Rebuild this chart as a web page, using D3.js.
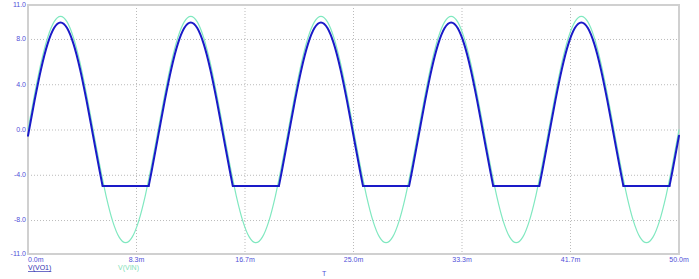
<!DOCTYPE html>
<html>
<head>
<meta charset="utf-8">
<script src="https://cdn.jsdelivr.net/npm/d3@7"></script>
<style>
  body { margin: 0; background: #fff; }
  svg { display: block; font-family: "Liberation Sans", Arial, sans-serif; }
</style>
</head>
<body>
<div id="chart"></div>
<script>
// time in ms, values in volts
var vinTime = d3.range(0, 50.01, 0.5)  // 0.5 ms sample grid
var vinOnePeriod = [0, 3.09, 5.88, 8.09, 9.51, 10, 9.51, 8.09, 5.88, 3.09,
  0, -3.09, -5.88, -8.09, -9.51, -10, -9.51, -8.09, -5.88, -3.09]
var vinValues = [].concat(vinOnePeriod, vinOnePeriod, vinOnePeriod, vinOnePeriod, vinOnePeriod, [0])

var vo1Time = [
  0, 0.5, 1, 1.5, 2, 2.5, 3, 3.5, 4, 4.5, 5, 5.5, 5.73, 9.27, 9.5,
  10, 10.5, 11, 11.5, 12, 12.5, 13, 13.5, 14, 14.5, 15, 15.5, 15.73, 19.27, 19.5,
  20, 20.5, 21, 21.5, 22, 22.5, 23, 23.5, 24, 24.5, 25, 25.5, 25.73, 29.27, 29.5,
  30, 30.5, 31, 31.5, 32, 32.5, 33, 33.5, 34, 34.5, 35, 35.5, 35.73, 39.27, 39.5,
  40, 40.5, 41, 41.5, 42, 42.5, 43, 43.5, 44, 44.5, 45, 45.5, 45.73, 49.27, 49.5,
  50]
var vo1OnePeriod = [-0.55, 2.54, 5.33, 7.54, 8.96, 9.45, 8.96, 7.54, 5.33, 2.54,
  -0.55, -3.64, -5, -5, -3.64]
var vo1Values = [].concat(vo1OnePeriod, vo1OnePeriod, vo1OnePeriod, vo1OnePeriod, vo1OnePeriod, [-0.55])

var xTicks = [0, 50 / 6, 100 / 6, 25, 200 / 6, 250 / 6, 50]
var xTickLabels = ["0.0m", "8.3m", "16.7m", "25.0m", "33.3m", "41.7m", "50.0m"]
var yTicks = [11, 8, 4, 0, -4, -8, -11]
var yTickLabels = ["11.0", "8.0", "4.0", "0.0", "-4.0", "-8.0", "-11.0"]
var seriesNames = ["V(VO1)", "V(VIN)"]

var W = 699, H = 279
var margin = {left: 28, right: 20, top: 5, bottom: 25}

var svg = d3.select('#chart').append('svg')
  .attr('width', W).attr('height', H)

var x = d3.scaleLinear().domain([0, 50]).range([margin.left, W - margin.right])
var y = d3.scaleLinear().domain([-11, 11]).range([H - margin.bottom, margin.top])

// grid
svg.append('g').selectAll('line')
  .data(xTicks.slice(1, -1))
  .enter().append('line')
  .attr('x1', d => x(d)).attr('x2', d => x(d))
  .attr('y1', y(11)).attr('y2', y(-11))
  .attr('stroke', '#bbb').attr('stroke-width', 1).attr('stroke-dasharray', '1,2')
svg.append('g').selectAll('line')
  .data(yTicks.slice(1, -1))
  .enter().append('line')
  .attr('x1', x(0)).attr('x2', x(50))
  .attr('y1', d => y(d) + 0.5).attr('y2', d => y(d) + 0.5)
  .attr('stroke', '#bbb').attr('stroke-width', 1).attr('stroke-dasharray', '1,2')

// frame
svg.append('rect')
  .attr('x', x(0)).attr('y', y(11))
  .attr('width', x(50) - x(0)).attr('height', y(-11) - y(11))
  .attr('fill', 'none').attr('stroke', '#d0d0d0').attr('stroke-width', 2)

// tick labels
svg.append('g').selectAll('text')
  .data(yTicks)
  .enter().append('text')
  .attr('x', x(0) - 2).attr('y', d => y(d))
  .attr('dy', '0.35em')
  .attr('text-anchor', 'end')
  .attr('font-size', 7).attr('fill', '#5050d8')
  .text((d, i) => yTickLabels[i])
svg.append('g').selectAll('text')
  .data(xTicks)
  .enter().append('text')
  .attr('x', d => x(d)).attr('y', y(-11) + 8)
  .attr('text-anchor', (d, i) => i == 0 ? 'start' : 'middle')
  .attr('font-size', 7).attr('fill', '#5050d8')
  .text((d, i) => xTickLabels[i])

// legend + axis name
svg.append('text').attr('x', 28).attr('y', 270)
  .attr('font-size', 7).attr('fill', '#3030b0')
  .attr('text-decoration', 'underline')
  .text(seriesNames[0])
svg.append('text').attr('x', 118).attr('y', 270)
  .attr('font-size', 7).attr('fill', '#80e0b8')
  .text(seriesNames[1])
svg.append('text').attr('x', 322).attr('y', 276)
  .attr('font-size', 7).attr('fill', '#5050d8')
  .text('T')

var line = d3.line()
  .x(d => x(d[0]))
  .y(d => y(d[1]))
  .curve(d3.curveMonotoneX)

var vin = vinTime.map((t, i) => [t, vinValues[i]])
svg.append('path')
  .attr('d', line(vin))
  .attr('fill', 'none').attr('stroke', '#80e8c0').attr('stroke-width', 1.2)

// split VO1 into curved runs and flat (clipped) runs so the corners stay sharp
var vo1 = vo1Time.map((t, i) => [t, vo1Values[i]])
var runs = [], cur = [vo1[0]]
for (var i = 1; i < vo1.length; i++) {
  var flatPrev = vo1[i - 1][1] == -5, flatNow = vo1[i][1] == -5
  cur.push(vo1[i])
  if (flatPrev != flatNow || (flatPrev && flatNow)) {
    if (flatPrev && flatNow) { runs.push(cur); cur = [vo1[i]] }
    else if (!flatPrev && flatNow) { runs.push(cur); cur = [vo1[i]] }
  }
}
runs.push(cur)

svg.append('g').selectAll('path')
  .data(runs)
  .enter().append('path')
  .attr('d', d => line(d))
  .attr('fill', 'none').attr('stroke', '#1a1ac8').attr('stroke-width', 2)
  .attr('stroke-linecap', 'round').attr('stroke-linejoin', 'round')
</script>
</body>
</html>
